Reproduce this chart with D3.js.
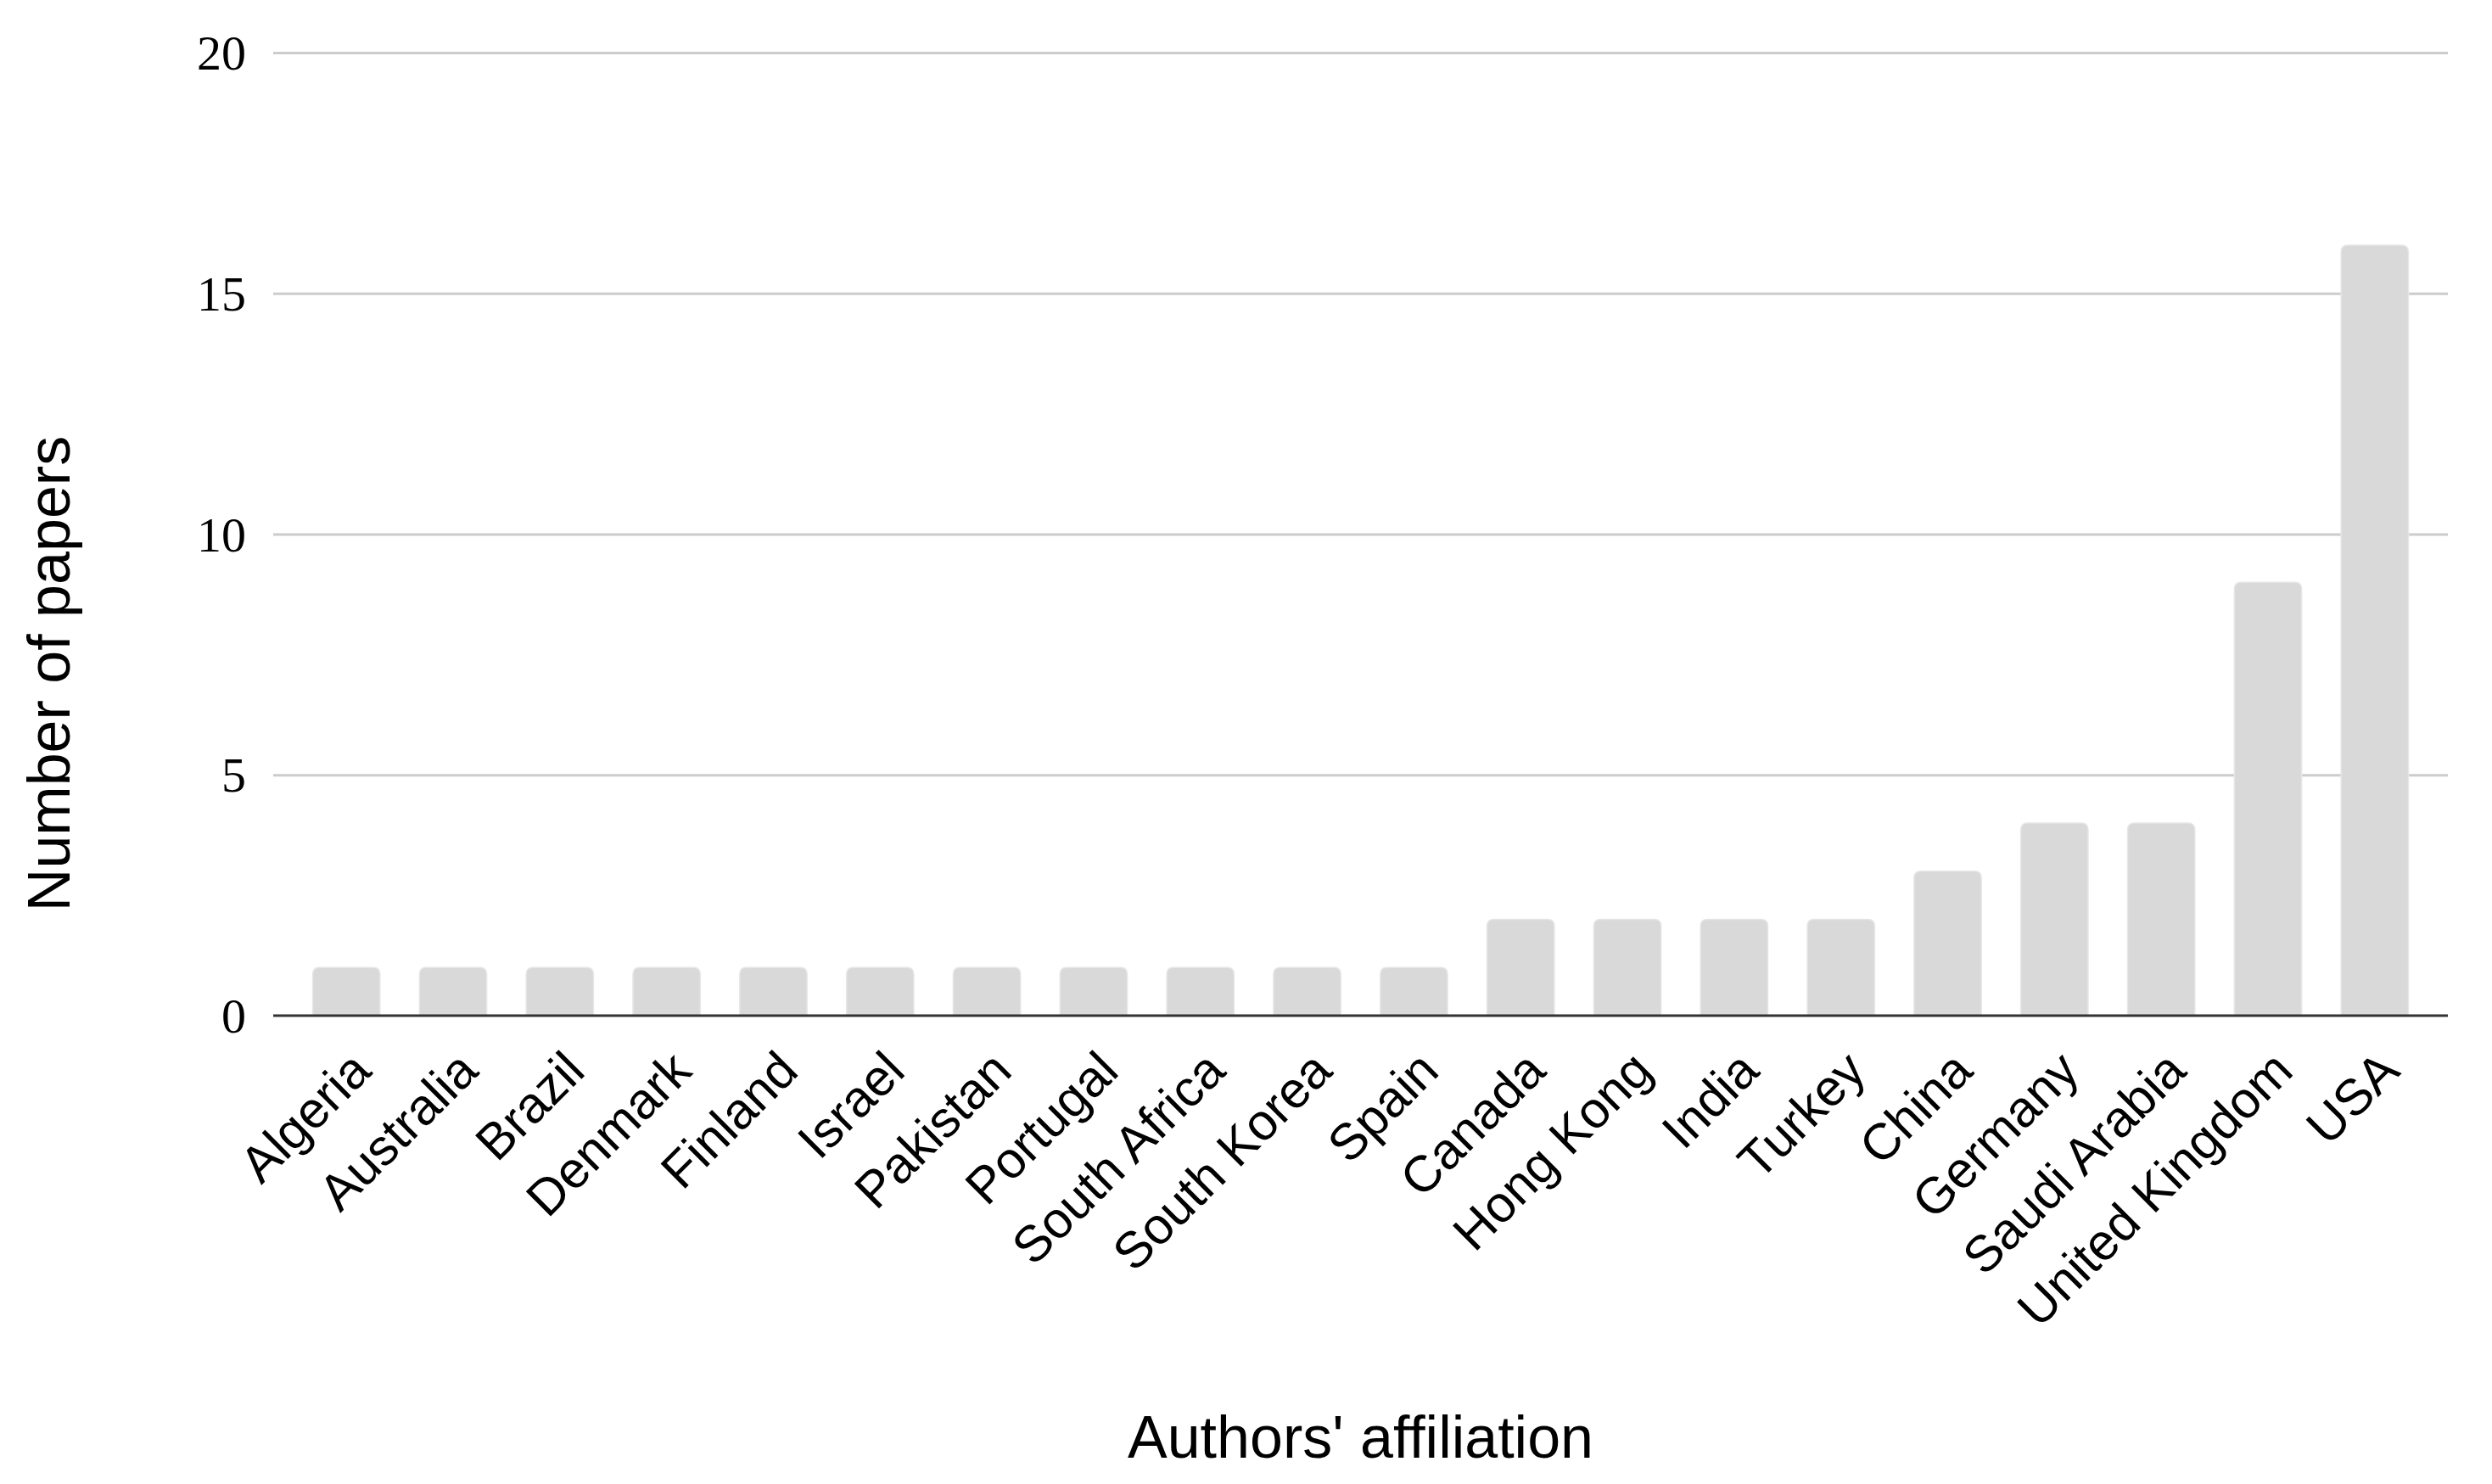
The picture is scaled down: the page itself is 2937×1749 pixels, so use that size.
<!DOCTYPE html>
<html>
<head>
<meta charset="utf-8">
<script src="https://cdn.jsdelivr.net/npm/d3@7"></script>
<style>
  html, body { margin: 0; padding: 0; background: #fff; }
  svg { display: block; }
</style>
</head>
<body>
<svg id="chart" width="2937" height="1749"></svg>
<script>
const countries = ["Algeria","Australia","Brazil","Denmark","Finland","Israel","Pakistan","Portugal","South Africa","South Korea","Spain","Canada","Hong Kong","India","Turkey","China","Germany","Saudi Arabia","United Kingdom","USA"];
const papers = [1,1,1,1,1,1,1,1,1,1,1,2,2,2,2,3,4,4,9,16];
const yTicks = [0,5,10,15,20];
const xTitle = "Authors' affiliation";
const yTitle = "Number of papers";

(function () {
const svg = d3.select("#chart");
const plotLeft = 322, plotRight = 2885, plotTop = 62, plotBottom = 1197;

const x = d3.scaleBand().domain(countries).range([plotLeft, plotRight]).paddingInner(0.37).paddingOuter(0.37);
const y = d3.scaleLinear().domain([0, 20]).range([plotBottom, plotTop]);

// gridlines
const grid = svg.append("g").attr("transform", `translate(${plotLeft},0)`)
  .call(d3.axisLeft(y).tickValues(yTicks.filter(d => d !== 0)).tickSize(-(plotRight - plotLeft)).tickFormat(""));
grid.select(".domain").remove();
grid.selectAll(".tick line").attr("stroke", "#cccccc").attr("stroke-width", 3);

// y tick labels
const yAxis = svg.append("g").attr("transform", `translate(290,0)`)
  .call(d3.axisLeft(y).tickValues(yTicks).tickSize(0).tickPadding(0).tickFormat(d3.format("d")));
yAxis.select(".domain").remove();
yAxis.selectAll(".tick text")
  .attr("font-family", "'Liberation Serif', 'Times New Roman', serif")
  .attr("font-size", 58).attr("fill", "#000").attr("dy", "0.34em");

// bars with rounded top corners
const r = 8;
function barPath(d, i) {
  const x0 = x(countries[i]), w = x.bandwidth();
  const y0 = y(0), y1 = y(d);
  return `M${x0},${y0} V${y1 + r} Q${x0},${y1} ${x0 + r},${y1} H${x0 + w - r} Q${x0 + w},${y1} ${x0 + w},${y1 + r} V${y0} Z`;
}
svg.append("g").selectAll("path").data(papers).join("path")
  .attr("d", (d, i) => barPath(d, i))
  .attr("fill", "#d9d9d9")
  .attr("stroke", "#e6e6e6").attr("stroke-width", 1.5);

// baseline axis
svg.append("line").attr("x1", plotLeft).attr("x2", plotRight).attr("y1", y(0)).attr("y2", y(0))
  .attr("stroke", "#333333").attr("stroke-width", 3);

// x tick labels
svg.append("g").selectAll("text").data(countries).join("text")
  .attr("transform", d => `translate(${x(d) + x.bandwidth() / 2 + 32},${y(0) + 68}) rotate(-45)`)
  .attr("text-anchor", "end")
  .attr("font-family", "'Liberation Sans', Arial, sans-serif")
  .attr("font-size", 60).attr("fill", "#000")
  .text(d => d);

// axis titles
svg.append("text")
  .attr("x", (plotLeft + plotRight) / 2).attr("y", 1718)
  .attr("text-anchor", "middle")
  .attr("font-family", "'Liberation Sans', Arial, sans-serif")
  .attr("font-size", 70).attr("fill", "#000")
  .text(xTitle);

svg.append("text")
  .attr("transform", `translate(82,794) rotate(-90)`)
  .attr("text-anchor", "middle")
  .attr("font-family", "'Liberation Sans', Arial, sans-serif")
  .attr("font-size", 70).attr("fill", "#000")
  .text(yTitle);
})();
</script>
</body>
</html>
